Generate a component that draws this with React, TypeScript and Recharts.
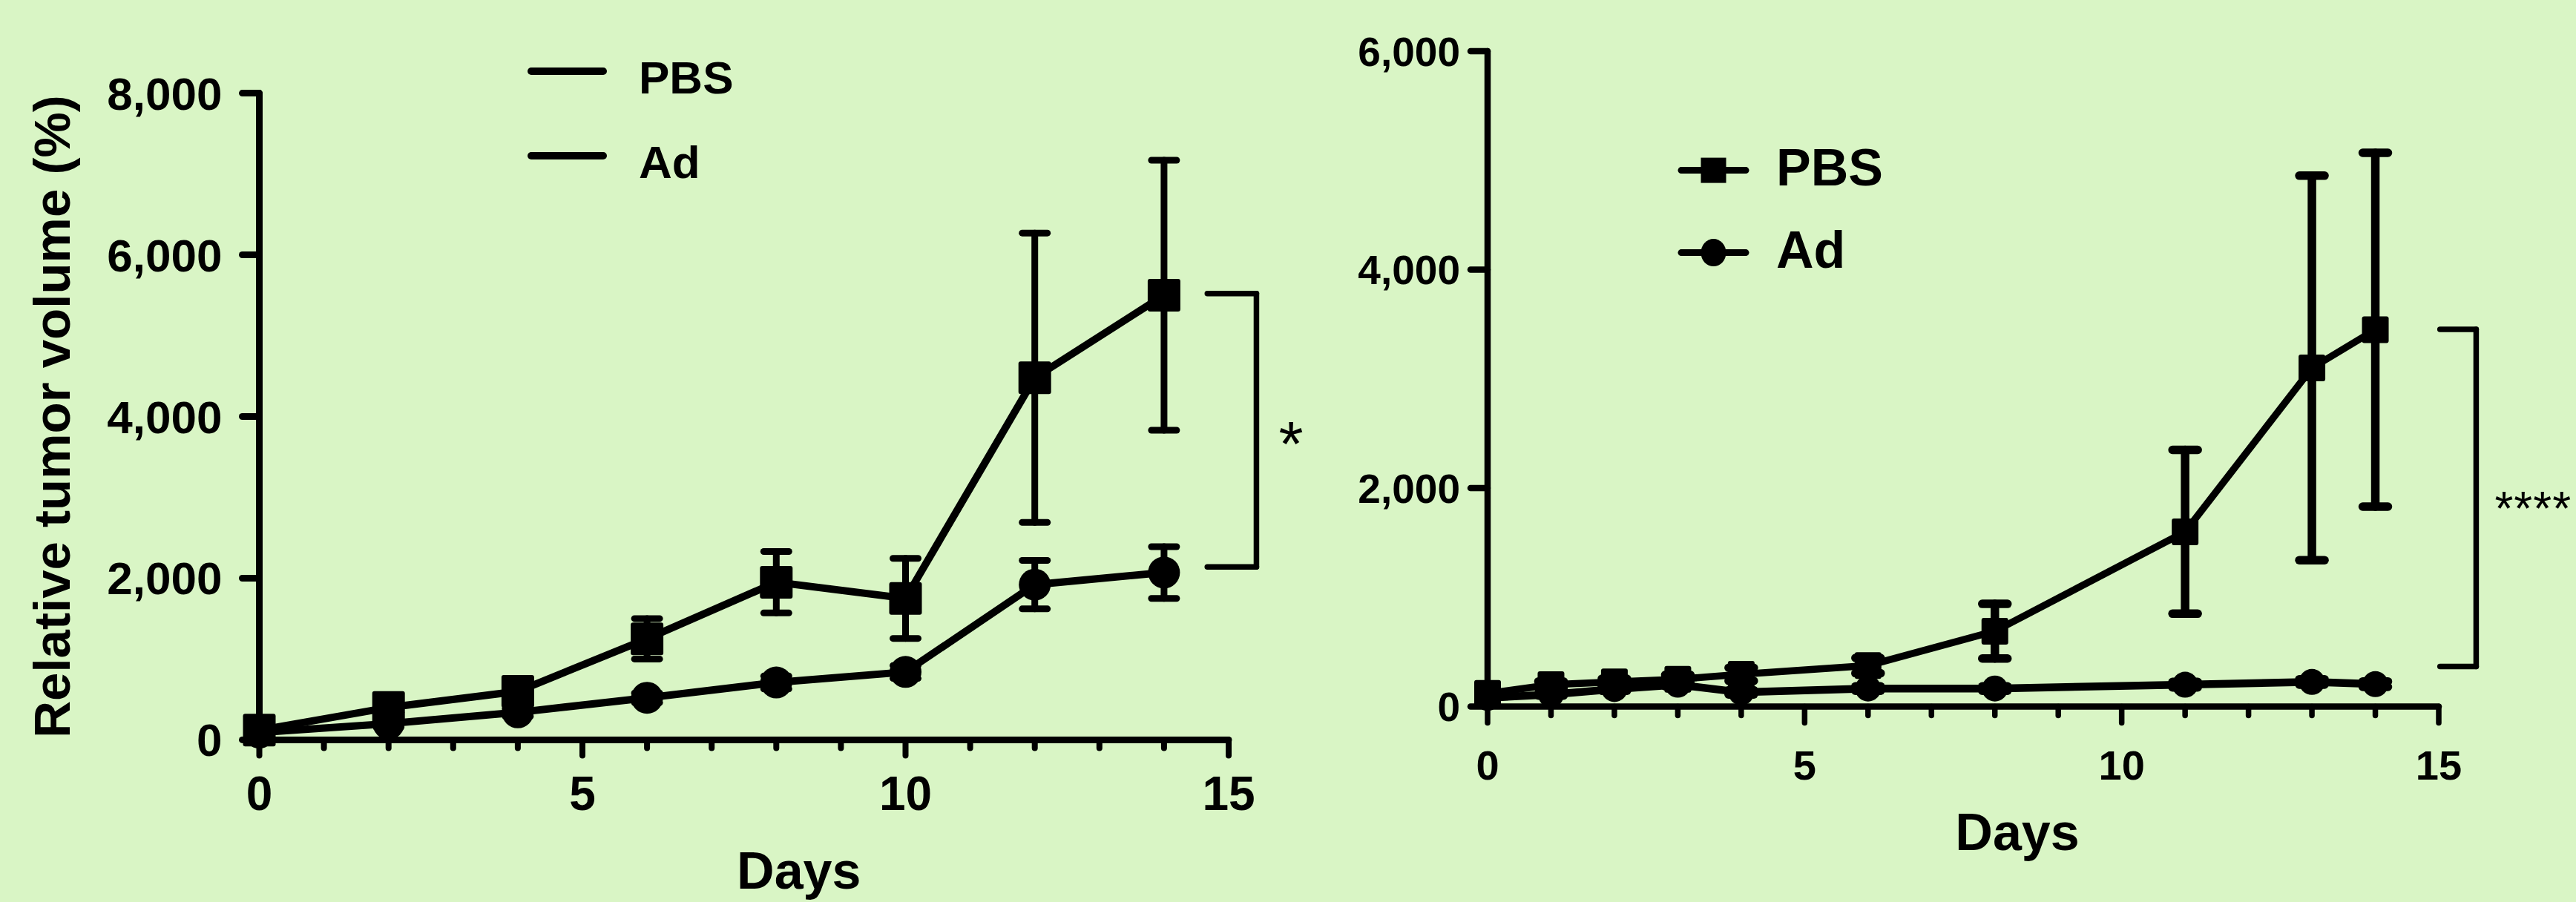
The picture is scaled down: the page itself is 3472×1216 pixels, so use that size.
import React from "react";
import { LineChart, Line, XAxis, YAxis, ErrorBar, ReferenceLine, Legend } from "recharts";

// left panel
const leftDays = [0, 2, 4, 6, 8, 10, 12, 14];
const leftPbs = [120, 400, 600, 1250, 1950, 1750, 4480, 5500];
const leftPbsSem = [0, 60, 70, 250, 380, 495, 1790, 1670];
const leftAd = [90, 200, 340, 520, 710, 840, 1920, 2070];
const leftAdSem = [0, 40, 50, 60, 80, 80, 300, 320];

// right panel
const rightDays = [0, 1, 2, 3, 4, 6, 8, 11, 13, 14];
const rightPbs = [120, 200, 225, 250, 295, 375, 690, 1600, 3100, 3450];
const rightPbsSem = [0, 30, 30, 40, 60, 70, 250, 750, 1760, 1620];
const rightAd = [80, 110, 160, 200, 130, 165, 165, 200, 225, 205];
const rightAdSem = [0, 10, 15, 15, 20, 20, 20, 25, 25, 25];

const dayTicks = [0, 1, 2, 3, 4, 5, 6, 7, 8, 9, 10, 11, 12, 13, 14, 15];
const leftYTicks = [0, 2000, 4000, 6000, 8000];
const rightYTicks = [0, 2000, 4000, 6000];
const seriesNames = ["PBS", "Ad"];
const yTitle = "Relative tumor volume (%)";
const xTitle = "Days";

const FONT = "'Liberation Sans', Arial, Helvetica, sans-serif";
const BG = "#d9f5c5";

const buildRows = (days: number[], pbs: number[], pbsSem: number[], ad: number[], adSem: number[]) =>
  days.map((d, i) => ({ day: d, pbs: pbs[i], pbsErr: pbsSem[i], ad: ad[i], adErr: adSem[i] }));

const leftRows = buildRows(leftDays, leftPbs, leftPbsSem, leftAd, leftAdSem);
const rightRows = buildRows(rightDays, rightPbs, rightPbsSem, rightAd, rightAdSem);

const fmt = (v: number) => v.toLocaleString("en-US");

const squareDot = (size: number) => (p: any) => {
  if (p.cx == null || p.cy == null) return <g key={`s-${p.index}`} />;
  return (
    <rect key={`s-${p.index}`} x={p.cx - size / 2} y={p.cy - size / 2} width={size} height={size} rx={3} fill="#000" />
  );
};

const circleDot = (r: number) => (p: any) => {
  if (p.cx == null || p.cy == null) return <g key={`c-${p.index}`} />;
  return <ellipse key={`c-${p.index}`} cx={p.cx} cy={p.cy} rx={r} ry={r} fill="#000" />;
};

const dayTick = (major: number, minor: number, labelDy: number, fontSize: number, sw: number) => (p: any) => {
  const v = p.payload.value;
  const isMajor = v % 5 === 0;
  return (
    <g key={`t-${v}`}>
      <line x1={p.x} y1={p.y} x2={p.x} y2={p.y + (isMajor ? major : minor)} stroke="#000" strokeWidth={sw} strokeLinecap="round" />
      {isMajor && (
        <text x={p.x} y={p.y + labelDy} textAnchor="middle" fontSize={fontSize} fontWeight="bold" fontFamily={FONT} fill="#000">
          {v}
        </text>
      )}
    </g>
  );
};

const legendContent = (opts: { withMarkers: boolean; fontSize: number; gap: number; lineY: number; textDy: number; x0: number; x1: number; textX: number; mSize: number; sw: number }) =>
  (props: any) => {
    const names: string[] = (props.payload || []).map((e: any) => String(e.value));
    const items = seriesNames.filter((n) => names.includes(n));
    return (
      <svg width={420} height={300} style={{ overflow: "visible" }}>
        {items.map((name: string, i: number) => {
          const y = opts.lineY + i * opts.gap;
          const mx = (opts.x0 + opts.x1) / 2;
          return (
            <g key={name}>
              <line x1={opts.x0} y1={y} x2={opts.x1} y2={y} stroke="#000" strokeWidth={opts.sw} strokeLinecap="round" />
              {opts.withMarkers && name === seriesNames[0] && (
                <rect x={mx - opts.mSize / 2} y={y - opts.mSize / 2} width={opts.mSize} height={opts.mSize} fill="#000" />
              )}
              {opts.withMarkers && name === seriesNames[1] && (
                <ellipse cx={mx} cy={y} rx={opts.mSize / 2} ry={opts.mSize / 2 + 1.5} fill="#000" />
              )}
              <text x={opts.textX} y={y + opts.textDy} fontSize={opts.fontSize} fontWeight="bold" fontFamily={FONT} fill="#000">
                {name}
              </text>
            </g>
          );
        })}
      </svg>
    );
  };

const starLabel = (text: string, fontSize: number, dx: number, dy: number, spacing: number) => (p: any) => {
  const vb = p.viewBox || {};
  return (
    <text
      x={vb.x + dx}
      y={vb.y + vb.height / 2 + dy}
      fontSize={fontSize}
      fontFamily={FONT}
      letterSpacing={spacing}
      fill="#000"
    >
      {text}
    </text>
  );
};

const LeftChart = () => (
  <LineChart width={1800} height={1216} data={leftRows} margin={{ top: 125.6, right: 144, bottom: 118.6, left: 0 }}>
    <XAxis
      type="number"
      dataKey="day"
      domain={[0, 15]}
      ticks={dayTicks}
      interval={0}
      height={100}
      tickSize={0}
      tickMargin={0}
      tickLine={false}
      axisLine={{ stroke: "#000", strokeWidth: 9, strokeLinecap: "round" }}
      tick={dayTick(21, 11, 94.5, 64, 8)}
      label={(p: any) => {
        const vb = p.viewBox;
        return (
          <text x={vb.x + vb.width / 2 + 74} y={vb.y + 201} textAnchor="middle" fontSize={70} fontWeight="bold" fontFamily={FONT} fill="#000">
            {xTitle}
          </text>
        );
      }}
    />
    <YAxis
      type="number"
      domain={[0, 8000]}
      ticks={leftYTicks}
      interval={0}
      width={349.5}
      tickSize={23}
      tickMargin={27}
      tickFormatter={fmt}
      tick={{ fontSize: 62, fontWeight: "bold", fontFamily: FONT, fill: "#000" }}
      tickLine={{ stroke: "#000", strokeWidth: 9, strokeLinecap: "round" }}
      axisLine={{ stroke: "#000", strokeWidth: 9, strokeLinecap: "round" }}
      label={(p: any) => {
        const vb = p.viewBox;
        const x = vb.x + 94;
        const y = vb.y + vb.height / 2;
        return (
          <text x={x} y={y} transform={`rotate(-90, ${x}, ${y})`} textAnchor="middle" fontSize={69} fontWeight="bold" fontFamily={FONT} fill="#000">
            {yTitle}
          </text>
        );
      }}
    />
    <Legend
      layout="horizontal"
      verticalAlign="middle"
      align="center"
      wrapperStyle={{ left: 700, top: 40, width: 420, height: 300 }}
      content={legendContent({ withMarkers: false, fontSize: 62, gap: 114, lineY: 56, textDy: 30, x0: 16, x1: 113, textX: 161, mSize: 0, sw: 10 })}
    />
    <Line
      name={seriesNames[0]}
      dataKey="pbs"
      type="linear"
      stroke="#000"
      strokeWidth={10}
      dot={squareDot(44)}
      isAnimationActive={false}
    >
      <ErrorBar dataKey="pbsErr" width={17} stroke="#000" strokeWidth={9} strokeLinecap="round" isAnimationActive={false} />
    </Line>
    <Line
      name={seriesNames[1]}
      dataKey="ad"
      type="linear"
      stroke="#000"
      strokeWidth={10}
      dot={circleDot(21.5)}
      isAnimationActive={false}
    >
      <ErrorBar dataKey="adErr" width={17} stroke="#000" strokeWidth={9} strokeLinecap="round" isAnimationActive={false} />
    </Line>
    <ReferenceLine segment={[{ x: 14.67, y: 5520 }, { x: 15.43, y: 5520 }]} stroke="#000" strokeWidth={7.5} strokeLinecap="round" ifOverflow="visible" />
    <ReferenceLine
      segment={[{ x: 15.43, y: 5520 }, { x: 15.43, y: 2140 }]}
      stroke="#000"
      strokeWidth={7.5}
      strokeLinecap="round"
      ifOverflow="visible"
      label={starLabel("*", 85, 30, 48, 0)}
    />
    <ReferenceLine segment={[{ x: 14.67, y: 2140 }, { x: 15.43, y: 2140 }]} stroke="#000" strokeWidth={7.5} strokeLinecap="round" ifOverflow="visible" />
  </LineChart>
);

const RightChart = () => (
  <LineChart width={1732} height={1216} data={rightRows} margin={{ top: 69, right: 185, bottom: 163.5, left: 0 }}>
    <XAxis
      type="number"
      dataKey="day"
      domain={[0, 15]}
      ticks={dayTicks}
      interval={0}
      height={100}
      tickSize={0}
      tickMargin={0}
      tickLine={false}
      axisLine={{ stroke: "#000", strokeWidth: 8.5, strokeLinecap: "round" }}
      tick={dayTick(22, 12, 98, 56, 7.5)}
      label={(p: any) => {
        const vb = p.viewBox;
        return (
          <text x={vb.x + vb.width / 2 + 73} y={vb.y + 193.5} textAnchor="middle" fontSize={70} fontWeight="bold" fontFamily={FONT} fill="#000">
            {xTitle}
          </text>
        );
      }}
    />
    <YAxis
      type="number"
      domain={[0, 6000]}
      ticks={rightYTicks}
      interval={0}
      width={265}
      tickSize={23}
      tickMargin={14}
      tickFormatter={fmt}
      tick={{ fontSize: 55, fontWeight: "bold", fontFamily: FONT, fill: "#000" }}
      tickLine={{ stroke: "#000", strokeWidth: 8.5, strokeLinecap: "round" }}
      axisLine={{ stroke: "#000", strokeWidth: 8.5, strokeLinecap: "round" }}
    />
    <Legend
      layout="horizontal"
      verticalAlign="middle"
      align="center"
      wrapperStyle={{ left: 500, top: 170, width: 420, height: 300 }}
      content={legendContent({ withMarkers: true, fontSize: 70, gap: 111, lineY: 59.6, textDy: 20, x0: 26, x1: 113, textX: 154, mSize: 34, sw: 9 })}
    />
    <Line
      name={seriesNames[0]}
      dataKey="pbs"
      type="linear"
      stroke="#000"
      strokeWidth={9.5}
      dot={squareDot(36)}
      isAnimationActive={false}
    >
      <ErrorBar dataKey="pbsErr" width={17} stroke="#000" strokeWidth={11.5} strokeLinecap="round" isAnimationActive={false} />
    </Line>
    <Line
      name={seriesNames[1]}
      dataKey="ad"
      type="linear"
      stroke="#000"
      strokeWidth={10.5}
      dot={circleDot(17.5)}
      isAnimationActive={false}
    >
      <ErrorBar dataKey="adErr" width={17} stroke="#000" strokeWidth={11.5} strokeLinecap="round" isAnimationActive={false} />
    </Line>
    <ReferenceLine segment={[{ x: 15.02, y: 3453 }, { x: 15.59, y: 3453 }]} stroke="#000" strokeWidth={7.5} strokeLinecap="round" ifOverflow="visible" />
    <ReferenceLine
      segment={[{ x: 15.59, y: 3453 }, { x: 15.59, y: 366 }]}
      stroke="#000"
      strokeWidth={7.5}
      strokeLinecap="round"
      ifOverflow="visible"
      label={starLabel("****", 64, 25, 37, 1)}
    />
    <ReferenceLine segment={[{ x: 15.02, y: 366 }, { x: 15.59, y: 366 }]} stroke="#000" strokeWidth={7.5} strokeLinecap="round" ifOverflow="visible" />
  </LineChart>
);

export default function App() {
  return (
    <div style={{ position: "absolute", left: 0, top: 0, width: 3472, height: 1216, background: BG, overflow: "hidden" }}>
      <div style={{ position: "absolute", left: 0, top: 0 }}>
        <LeftChart />
      </div>
      <div style={{ position: "absolute", left: 1740, top: 0 }}>
        <RightChart />
      </div>
    </div>
  );
}
